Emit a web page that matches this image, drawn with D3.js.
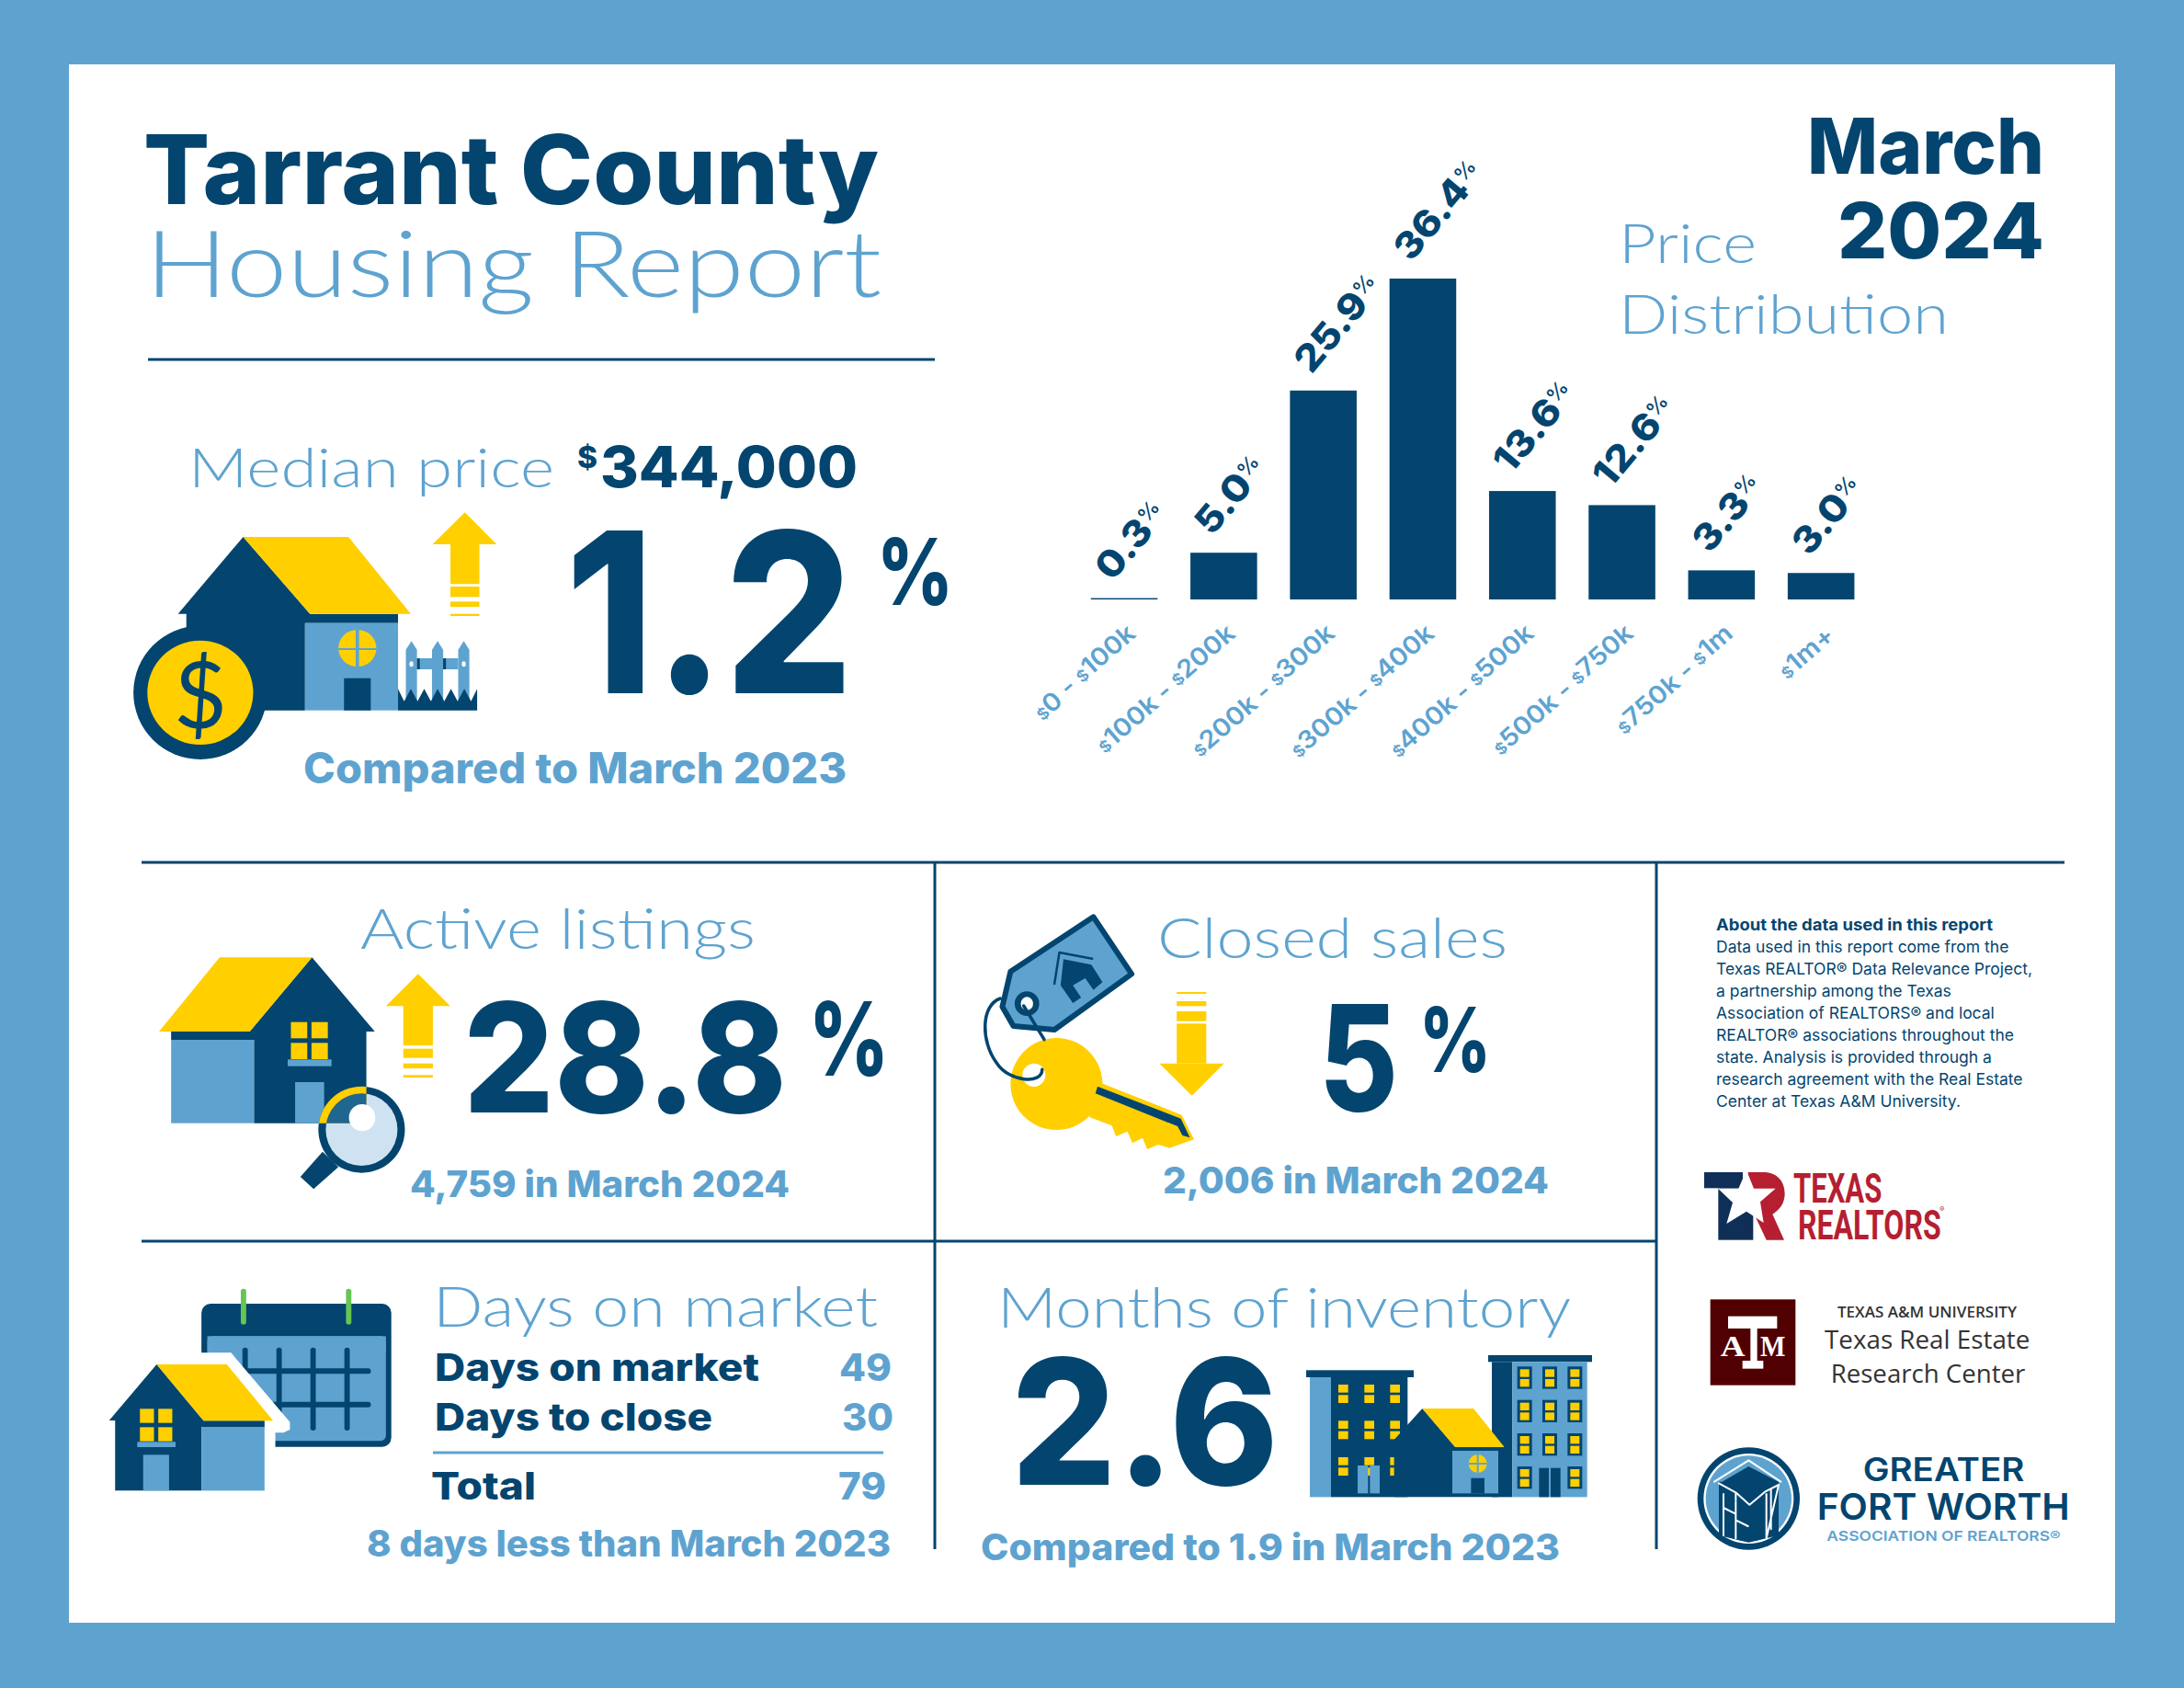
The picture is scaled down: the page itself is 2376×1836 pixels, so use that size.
<!DOCTYPE html>
<html><head><meta charset="utf-8">
<script src="https://cdn.jsdelivr.net/npm/d3@7/dist/d3.min.js"></script>
<style>html,body{margin:0;padding:0;background:#5ea3d0}svg{display:block}</style>
</head><body><svg id="c" width="2376" height="1836" viewBox="0 0 2376 1836"></svg>
<script>
// ---------- data ----------
const priceBands = ["$0 - $100k","$100k - $200k","$200k - $300k","$300k - $400k","$400k - $500k","$500k - $750k","$750k - $1m","$1m+"];
const priceShareLabels = [0.3,5.0,25.9,36.4,13.6,12.6,3.3,3.0];
// bar heights as drawn in the picture (the artwork is not exactly to scale with its labels)
const priceBarsAsDrawn = [0.15,5.3,23.7,36.4,12.3,10.7,3.3,3.0];
const medianPrice = "344,000";
const medianChange = "1.2";
const listingsChange = "28.8";
const closedChange = "5";
const inventoryMonths = "2.6";
const dayRows = ["Days on market","Days to close","Total"];
const dayValues = ["49","30","79"];
const aboutLines = ["Data used in this report come from the","Texas REALTOR® Data Relevance Project,","a partnership among the Texas","Association of REALTORS® and local","REALTOR® associations throughout the","state. Analysis is provided through a","research agreement with the Real Estate","Center at Texas A&M University."];

// ---------- style ----------
const DARK="#03456f", BLUE="#5ea3d0", YEL="#ffcf00", WHITE="#fff";
const BOLD="Inter, 'Open Sans', sans-serif", LIGHT="Lato, Roboto, sans-serif";
const svg=d3.select("#c");
svg.append("rect").attr("width",2376).attr("height",1836).attr("fill",BLUE);
svg.append("rect").attr("x",75).attr("y",70).attr("width",2226).attr("height",1695).attr("fill",WHITE);

function T(str,x,y,o={}){
  const t=(o.g||svg).append("text").attr("x",x).attr("y",y).text(str)
    .attr("font-family",o.family||BOLD).attr("font-size",o.size||40)
    .attr("font-weight",o.weight||800).attr("fill",o.fill||DARK);
  if(o.anchor)t.attr("text-anchor",o.anchor);
  if(o.width)t.attr("textLength",o.width).attr("lengthAdjust","spacingAndGlyphs");
  return t;
}
const L=(str,x,y,size,width)=>T(str,x,y,{size,width,family:LIGHT,weight:300,fill:BLUE});
const line=(x1,y1,x2,y2,c=DARK,w=3)=>svg.append("line").attr("x1",x1).attr("y1",y1).attr("x2",x2).attr("y2",y2).attr("stroke",c).attr("stroke-width",w);

function icon(ox,oy,sx,sy){
  const g=svg.append("g").attr("transform",`translate(${ox},${oy}) scale(${1/sx},${1/sy})`);
  return {g,
    poly:(p,f)=>g.append("polygon").attr("points",p).attr("fill",f),
    rect:(x0,y0,x1,y1,f,rx,ry)=>{const r=g.append("rect").attr("x",x0).attr("y",y0).attr("width",x1-x0).attr("height",y1-y0).attr("fill",f);if(rx)r.attr("rx",rx).attr("ry",ry);return r;},
    ell:(cx,cy,rx,ry,f)=>g.append("ellipse").attr("cx",cx).attr("cy",cy).attr("rx",rx).attr("ry",ry).attr("fill",f),
    path:(d,f,s,w)=>g.append("path").attr("d",d).attr("fill",f||"none").attr("stroke",s||"none").attr("stroke-width",w||0).attr("vector-effect","non-scaling-stroke").attr("stroke-linejoin","round").attr("stroke-linecap","round")
  };
}

// ---------- title ----------
T("Tarrant County",156,222,{size:104,width:800});
L("Housing Report",158,323,100,801);
line(161,391,1017,391);
T("March",1966,189,{size:84,width:258});
T("2024",1999,281,{size:84,width:225});
L("Price",1761,286,60,150);
L("Distribution",1761,363,60,359);

// ---------- price distribution chart ----------
const x=d3.scaleBand().domain(priceBands).range([1168.9,2035.3]).paddingInner(0.33).paddingOuter(0.165);
const y=d3.scaleLinear().domain([0,36.4]).range([652,303]);
const chart=svg.append("g");
chart.selectAll("rect.bar").data(priceBands).join("rect").attr("class","bar")
  .attr("x",d=>x(d)).attr("width",x.bandwidth())
  .attr("y",(d,i)=>y(priceBarsAsDrawn[i])).attr("height",(d,i)=>y(0)-y(priceBarsAsDrawn[i])).attr("fill",DARK);
chart.selectAll("text.val").data(priceBands).join("text").attr("class","val")
  .attr("transform",(d,i)=>`translate(${x(d)+x.bandwidth()/2-13},${y(priceBarsAsDrawn[i])-17}) rotate(-50) scale(1.1,1)`)
  .attr("font-family",BOLD).attr("font-weight",800).attr("font-size",40).attr("fill",DARK)
  .each(function(d,i){const s=d3.select(this);
    s.append("tspan").text(priceShareLabels[i].toFixed(1));
    s.append("tspan").text("%").attr("font-size",22).attr("font-weight",500).attr("dy",-12);});
const axis=chart.append("g").attr("transform","translate(0,652)").call(d3.axisBottom(x).tickSize(0).tickPadding(0));
axis.select(".domain").remove();
axis.selectAll(".tick text").attr("y",0).attr("dy",0)
  .attr("transform","translate(18,44) rotate(-41) scale(1.08,1)").attr("text-anchor","end")
  .attr("font-family",BOLD).attr("font-weight",600).attr("font-size",27).attr("fill",BLUE)
  .each(function(d){const s=d3.select(this).text(null);
    d.split(/(\$)/).filter(Boolean).forEach(p=>{const t=s.append("tspan").text(p);if(p==="$")t.attr("font-size",17).attr("dy",-3);else t.attr("dy",0);});});

// ---------- median price ----------
L("Median price",205,530,60,398);
T("$",628,509,{size:32,width:22});
T(medianPrice,653,530,{size:62,width:280});
T(medianChange,615,754,{size:243,width:313});
T("%",954,658,{size:100,width:83});
T("Compared to March 2023",330,852,{size:46,width:591,fill:BLUE});
{const k=icon(130,480,1.65,3);
 k.poly("222,312 342,563 500,563 500,593 333,593 333,878 120,878 120,563 105,563",DARK);
 k.poly("222,312 411,312 523,563 342,563",YEL);
 k.rect(333,593,500,878,BLUE);
 k.ell(427,675,34,60,YEL);
 k.rect(424,615,430,735,BLUE);k.rect(393,675,461,681,BLUE);
 k.rect(403,773,451,878,DARK);
 k.ell(145,820,120,218,DARK);k.ell(145,820,95,170,YEL);
 k.poly("620,232 677,336 646,336 646,466 594,466 594,336 562,336",YEL);
 k.rect(594,474,646,508,YEL);k.rect(594,523,646,540,YEL);k.rect(594,563,646,570,YEL);
 [514,561,608].forEach(a=>{k.poly(`${a},680 ${a+10},652 ${a+20},680 ${a+20},850 ${a},850`,BLUE);k.ell(a+10,727,3.5,9,WHITE);});
 k.rect(534,708,608,744,BLUE);k.rect(534,708,539,744,DARK);k.rect(581,708,586,744,DARK);
 k.poly("500,878 500,808 511,848 523,808 535,848 547,808 559,848 571,808 583,848 595,808 607,848 619,808 631,848 642,808 642,878",DARK);
}
T("$",218,792,{size:100,family:LIGHT,weight:400,anchor:"middle"});

// ---------- section rules ----------
line(154,938,2246,938);
line(154,1350,1802,1350);
line(1017,938,1017,1685);
line(1802,938,1802,1685);

// ---------- active listings ----------
L("Active listings",392,1032,62,430);
T(listingsChange,504,1210,{size:166,width:352});
T("%",880,1170,{size:111,width:87});
T("4,759 in March 2024",446,1302,{size:40,width:413,fill:BLUE});
{const k=icon(150,960,1.742,3);
 k.poly("330,244 449,486 433,486 433,785 220,785 220,513 63,513 63,486 212,486",DARK);
 k.poly("155,244 330,244 212,486 40,486",YEL);
 k.rect(63,513,220,785,BLUE);
 [[290,455],[329,455],[290,523],[329,523]].forEach(p=>k.rect(p[0],p[1],p[0]+31,p[1]+53,YEL));
 k.rect(284,577,367,599,BLUE);k.rect(298,651,353,785,BLUE);
 k.poly("350,878 380,928 333,1000 308,960",DARK);
 k.ell(424,806,82,141,DARK);k.ell(424,806,68,118,"#cfe2f1");
 const cid="lensClip";
 k.g.append("clipPath").attr("id",cid).append("rect").attr("x",300).attr("y",640).attr("width",133).attr("height",145);
 k.ell(424,806,82,141,YEL).attr("clip-path",`url(#${cid})`);
 k.ell(424,806,68,118,"#1f6690").attr("clip-path",`url(#${cid})`);
 k.ell(425,767,25,44,WHITE);
 k.poly("531,298 592,403 559,403 559,531 503,531 503,403 470,403",YEL);
 k.rect(503,542,559,572,YEL);k.rect(503,590,559,606,YEL);k.rect(503,628,559,636,YEL);
}

// ---------- closed sales ----------
L("Closed sales",1259,1042,62,381);
T(closedChange,1435,1208,{size:160,width:86});
T("%",1544,1166,{size:98,width:78});
T("2,006 in March 2024",1265,1298,{size:40,width:420,fill:BLUE});
{const k=icon(1040,960,2.24,3);
 k.poly("355,655 550,758 580,838 520,866 493,855 466,870 455,833 430,850 418,812 390,828 380,793 325,765",YEL);
 k.ell(245,657,112,150,YEL);
 k.ell(190,628,28,38,WHITE);
 k.poly("345,665 548,770 570,832 552,825 540,795 340,688",DARK);
 k.path("M335,112 L428,298 L240,480 L140,468 L113,405 L133,290 Z",BLUE,DARK,6);
 k.poly("262,250 330,268 357,325 335,350 315,312 285,335 305,375 285,393 255,335",DARK);
 k.path("M240,330 L252,228 L332,248",null,DARK,2.5);
 k.ell(173,395,30,40,DARK);k.ell(173,395,15,22,WHITE);
 k.path("M108,378 C60,400 60,520 100,590 C130,650 210,660 210,610",null,DARK,3.5);
 k.path("M165,402 L215,512",null,DARK,3.5);
 [[357,363],[387,403],[420,452],[460,590]].forEach(p=>k.rect(538,p[0],610,p[1],YEL));
 k.poly("496,590 653,590 575,695",YEL);
}

// ---------- days on market ----------
L("Days on market",471,1443,62,484);
T(dayRows[0],473,1502,{size:41,width:353});
T(dayValues[0],913,1502,{size:41,width:57,fill:BLUE});
T(dayRows[1],473,1556,{size:41,width:302});
T(dayValues[1],916,1556,{size:41,width:56,fill:BLUE});
line(471,1580,961,1580,BLUE,3);
T(dayRows[2],469,1631,{size:41,width:114});
T(dayValues[2],912,1631,{size:41,width:52,fill:BLUE});
T("8 days less than March 2023",399,1693,{size:40,width:570,fill:BLUE});
{const k=icon(100,1370,1.704,3);
 k.rect(203,144,555,611,DARK,17,30);
 k.rect(214,250,545,592,BLUE,10,18);
 k.rect(214,250,545,300,BLUE);
 k.rect(276,95,286,212,"#66c653",5,8);k.rect(471,95,481,212,"#66c653",5,8);
 [284,347,410,473].forEach(a=>k.rect(a-5,287,a+5,558,DARK,5,8));
 [364,473].forEach(a=>k.rect(284,a-9,517,a+9,DARK,5,8));
 k.poly("203,304 258,304 367,530 367,555 355,565 340,565 340,754 40,754 40,525 120,305",WHITE);
 k.poly("120,342 207,526 320,526 320,546 203,546 203,754 43,754 43,525 32,525",DARK);
 k.poly("120,342 250,342 336,526 207,526",YEL);
 k.rect(203,546,320,754,BLUE);
 [[89,487],[123,487],[89,547],[123,547]].forEach(p=>k.rect(p[0],p[1],p[0]+26,p[1]+46,YEL));
 k.rect(84,595,155,612,BLUE);k.rect(95,637,143,754,BLUE);
}

// ---------- months of inventory ----------
L("Months of inventory",1085,1444,62,624);
T(inventoryMonths,1100,1615,{size:190,width:291});
T("Compared to 1.9 in March 2023",1067,1697,{size:40,width:630,fill:BLUE});
{const k=icon(1400,1440,3,3);
 k.rect(75,174,144,565,BLUE);k.rect(144,174,394,565,DARK);k.rect(63,151,414,174,DARK);
 [168,253,337].forEach(a=>[198,316,435].forEach(b=>{k.rect(a,b,a+32,b+26,YEL);k.rect(a,b+34,a+32,b+60,YEL);}));
 k.rect(231,462,265,553,BLUE);k.rect(271,462,303,553,BLUE);
 k.rect(669,124,736,565,DARK);k.rect(657,102,996,124,DARK);k.rect(736,124,980,565,BLUE);
 [752,834,916].forEach(a=>[139,248,357,465].forEach(b=>{ if(a===834&&b===465)return;
   k.rect(a,b,a+48,b+73,DARK);k.rect(a+9,b+9,a+39,b+34,YEL);k.rect(a+9,b+41,a+39,b+66,YEL);}));
 k.rect(823,470,855,565,DARK);k.rect(861,470,893,565,DARK);
 k.poly("442,276 550,402 690,402 690,565 350,565 350,378",DARK);
 k.poly("442,276 609,276 710,402 549,402",YEL);
 k.rect(540,414,690,553,BLUE);
 k.ell(623,456,30,30,YEL);k.rect(620,426,626,486,BLUE);k.rect(593,453,653,459,BLUE);
 k.rect(601,503,645,553,DARK);
}

// ---------- about ----------
T("About the data used in this report",1867,1012,{size:17.5,weight:700,width:301});
aboutLines.forEach((s,i)=>T(s,1867,1036+i*24,{size:17.5,weight:400}));

// ---------- logos ----------
{const k=icon(1820,1250,3,3);
 k.rect(102,75,228,127,"#0f2f57");k.rect(148,127,262,296,"#0f2f57");
 k.path("M245,75 H295 C340,75 365,105 365,145 C365,180 345,200 325,212 L363,296 H305 L262,205 L245,128 Z","#b51f31");
 k.poly("240,68 264,128 335,128 285,172 296,240 240,203 175,243 195,174 147,128 214,128",WHITE);
 // A&M mark
 k.rect(122,490,400,770,"#500000");
 k.rect(180,545,340,585,WHITE);k.rect(253,585,275,690,WHITE);k.rect(227,690,295,716,WHITE);
 // GFW mark
 k.g.append("circle").attr("cx",247).attr("cy",1140).attr("r",167).attr("fill",DARK);
 k.g.append("circle").attr("cx",247).attr("cy",1140).attr("r",147).attr("fill",WHITE);
 k.g.append("circle").attr("cx",247).attr("cy",1140).attr("r",140).attr("fill",BLUE);
 k.poly("160,1085 247,1035 345,1085 345,1260 247,1283 150,1260 150,1085",DARK);
 k.path("M135,1085 L247,1015 L352,1085",null,WHITE,2);
 k.path("M150,1090 L205,1120 V1145 M165,1125 V1260 M165,1170 L205,1190 M205,1150 V1270 M205,1210 L245,1230 M205,1120 L250,1160 L300,1118 L345,1095 M305,1125 V1270 M320,1110 V1240 M305,1270 L345,1095",null,WHITE,2);
}
const OX=1820,OY=1250;
T("TEXAS",OX+393/3,OY+175/3,{size:44,width:289/3,weight:700,family:"'Liberation Sans Narrow',Roboto,sans-serif",fill:"#b51f31"});
T("REALTORS",OX+408/3,OY+295/3,{size:44,width:467/3,weight:700,family:"'Liberation Sans Narrow',Roboto,sans-serif",fill:"#b51f31"});
T("®",OX+870/3,OY+205/3,{size:8,weight:400,fill:"#b51f31"});
T("A",OX+155/3,OY+675/3,{size:32,width:80/3,weight:700,family:"'Liberation Serif',serif",fill:WHITE});
T("M",OX+285/3,OY+675/3,{size:32,width:82/3,weight:700,family:"'Liberation Serif',serif",fill:WHITE});
T("TEXAS A&M UNIVERSITY",OX+537/3,OY+550/3,{size:17,width:585/3,weight:600,family:"'Open Sans',sans-serif",fill:"#333"});
T("Texas Real Estate",OX+495/3,OY+650/3,{size:28,width:670/3,weight:400,family:"'Open Sans',sans-serif",fill:"#333"});
T("Research Center",OX+515/3,OY+762/3,{size:28,width:635/3,weight:400,family:"'Open Sans',sans-serif",fill:"#333"});
T("GREATER",OX+620/3,OY+1082/3,{size:35,width:527/3,weight:600});
T("FORT WORTH",OX+470/3,OY+1208/3,{size:40,width:825/3,weight:600});
T("ASSOCIATION OF REALTORS®",OX+502/3,OY+1278/3,{size:15,width:763/3,weight:600,fill:BLUE});
</script></body></html>
